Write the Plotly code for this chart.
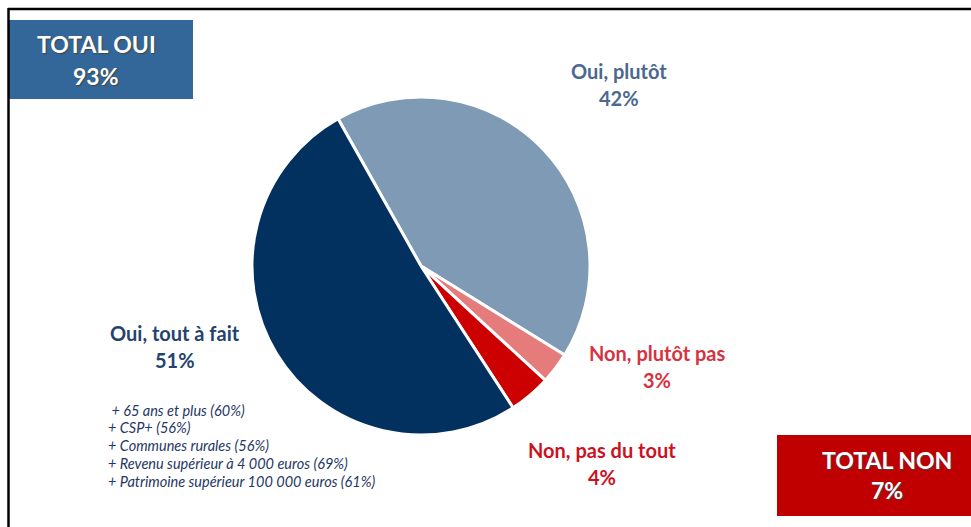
import plotly.graph_objects as go

W, H = 971, 527

labels = ["Oui, plutôt", "Non, plutôt pas", "Non, pas du tout", "Oui, tout à fait"]
values = [42, 3, 4, 51]
colors = ["#7F9AB4", "#E57B7B", "#CC0000", "#02315F"]
label_colors = ["#4A6890", "#D63341", "#CC1122", "#24426E"]
label_pos = [(619, 71), (657, 353), (602, 450), (175, 333)]

total_labels = ["TOTAL OUI", "TOTAL NON"]
total_values = [93, 7]

details = [
    " + 65 ans et plus (60%)",
    "+ CSP+ (56%)",
    "+ Communes rurales (56%)",
    "+ Revenu supérieur à 4 000 euros (69%)",
    "+ Patrimoine supérieur 100 000 euros (61%)",
]


def px(x):
    return x / W


def py(y):
    return 1 - y / H


cx, cy, r = 421, 266, 169

fig = go.Figure(go.Pie(
    labels=labels,
    values=values,
    sort=False,
    direction="clockwise",
    rotation=-29.4,
    marker=dict(colors=colors, line=dict(color="white", width=3)),
    textinfo="none",
    hoverinfo="label+percent",
    showlegend=False,
    domain=dict(x=[px(cx - r), px(cx + r)], y=[py(cy + r), py(cy - r)]),
))

font_family = "Lato, 'Open Sans', sans-serif"
annotations = []
for lab, val, col, (x, y) in zip(labels, values, label_colors, label_pos):
    annotations.append(dict(
        x=px(x), y=py(y), xref="paper", yref="paper",
        text=f"<b>{lab}</b>",
        showarrow=False, xanchor="center", yanchor="middle",
        font=dict(family=font_family, size=20, color=col),
    ))
    annotations.append(dict(
        x=px(x), y=py(y + 27), xref="paper", yref="paper",
        text=f"<b>{val}%</b>",
        showarrow=False, xanchor="center", yanchor="middle",
        font=dict(family=font_family, size=20, color=col),
    ))

for i, line in enumerate(details):
    annotations.append(dict(
        x=px(106), y=py(410 + i * 17.8), xref="paper", yref="paper",
        text=f"<i>{line}</i>",
        showarrow=False, xanchor="left", yanchor="middle",
        font=dict(family=font_family, size=14.5, color="#1F3864"),
    ))

shapes = [
    dict(type="rect", xref="paper", yref="paper",
         x0=px(9), x1=px(193), y0=py(99), y1=py(20),
         fillcolor="#336699", line=dict(width=0), layer="above"),
    dict(type="rect", xref="paper", yref="paper",
         x0=px(777), x1=px(971), y0=py(516), y1=py(435),
         fillcolor="#C00000", line=dict(width=0), layer="above"),
    dict(type="line", xref="paper", yref="paper",
         x0=px(8), x1=px(971), y0=py(9), y1=py(9),
         line=dict(color="black", width=2.5)),
    dict(type="line", xref="paper", yref="paper",
         x0=px(8.5), x1=px(8.5), y0=py(8), y1=py(527),
         line=dict(color="black", width=2.5)),
]

box_text_pos = [(96, 44, 76), (887, 460, 490)]
for lab, val, (x, y1, y2) in zip(total_labels, total_values, box_text_pos):
    for txt, yy in ((lab, y1), (f"{val}%", y2)):
        annotations.append(dict(
            x=px(x), y=py(yy), xref="paper", yref="paper",
            text=f"<b>{txt}</b>",
            showarrow=False, xanchor="center", yanchor="middle",
            font=dict(family=font_family, size=23, color="white",
                      shadow="1px 1px 1px #444"),
        ))

fig.update_layout(
    width=W, height=H,
    margin=dict(l=0, r=0, t=0, b=0),
    paper_bgcolor="white",
    plot_bgcolor="white",
    shapes=shapes,
    annotations=annotations,
)

fig.write_html("out.html", config={"displayModeBar": False},
               post_script="document.body.style.margin='0px';")
